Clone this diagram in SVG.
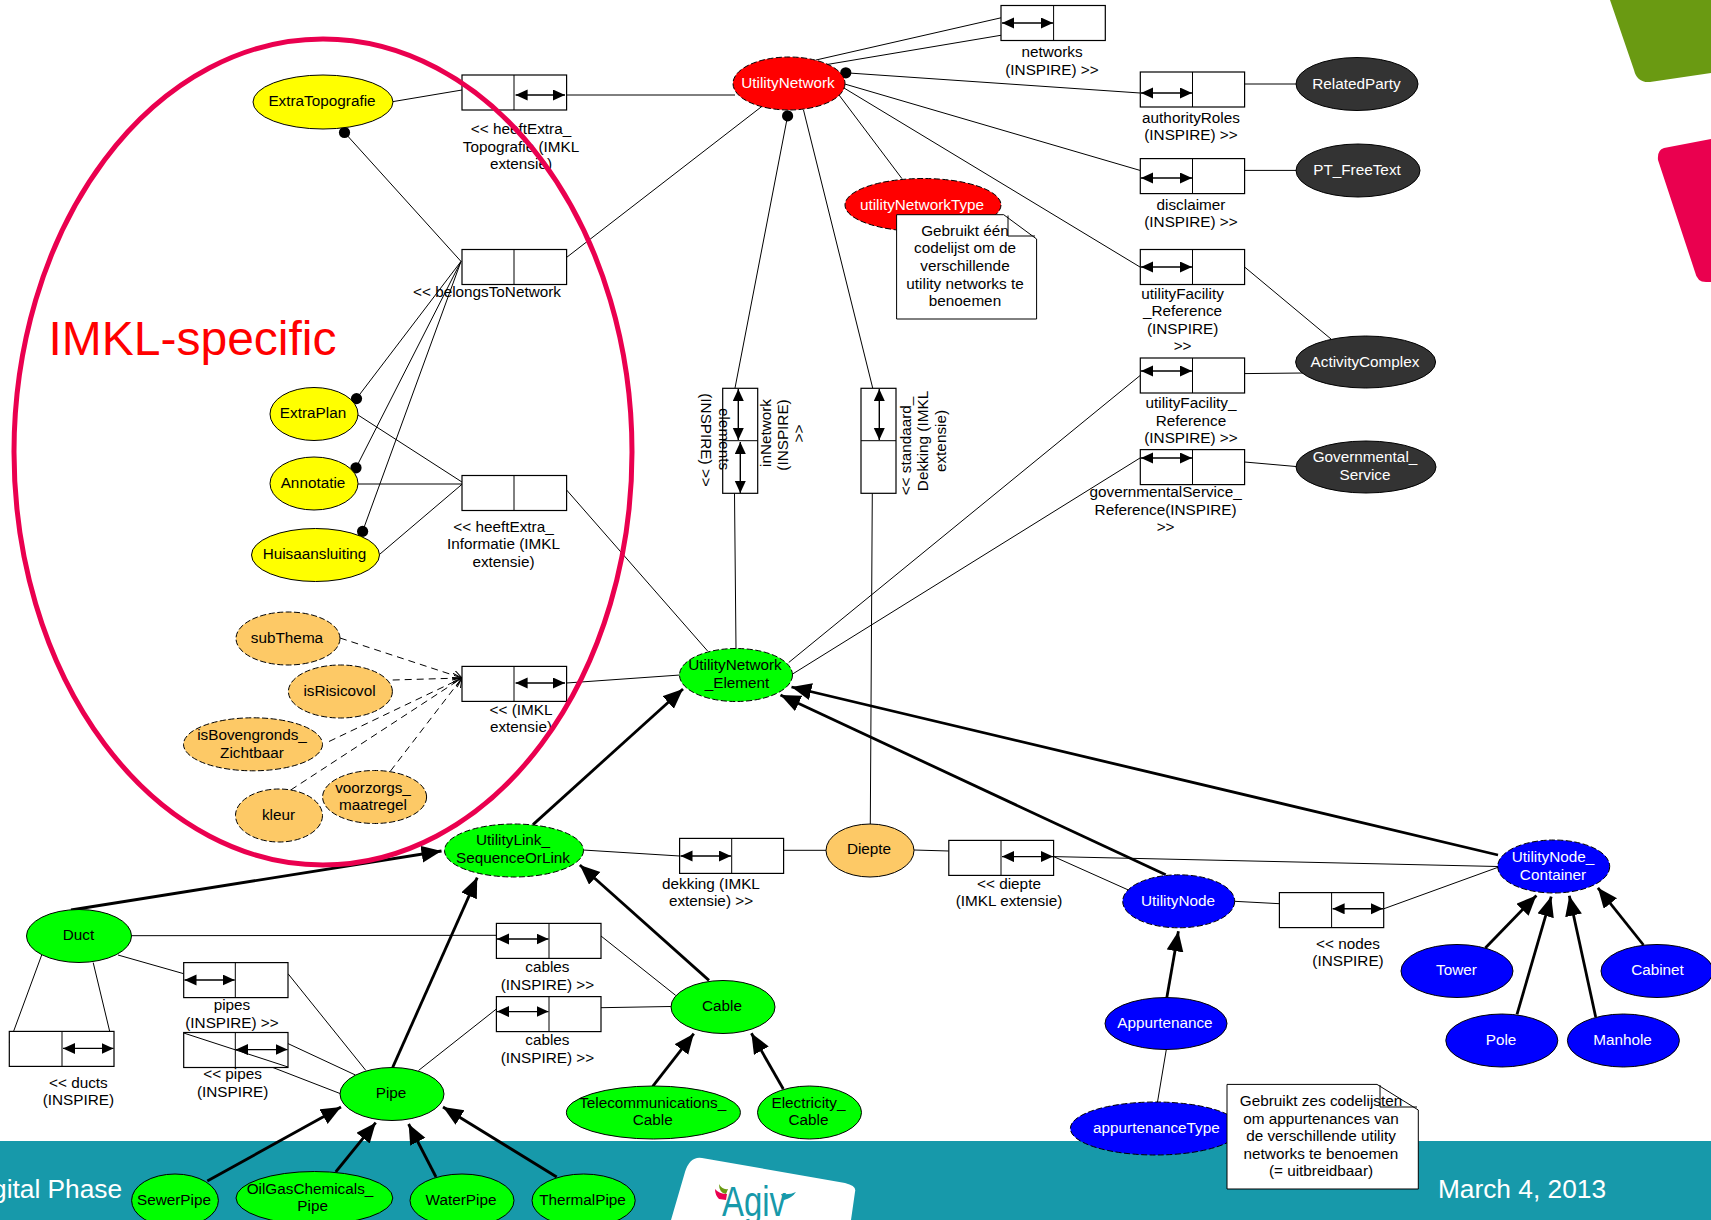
<svg xmlns="http://www.w3.org/2000/svg" width="1711" height="1220" viewBox="0 0 1711 1220">
<style>
text{font-family:"Liberation Sans",Arial,sans-serif;font-size:15.3px;fill:#000;text-anchor:middle}
.w{fill:#fff}
.n{stroke:#000;stroke-width:1}
.d{stroke-dasharray:6 2.5}
.g{fill:#00ff00}.y{fill:#ffff00}.r{fill:#ff0000}.b{fill:#0000ff}.k{fill:#333333}.o{fill:#fdc966}
.box{fill:#fff;stroke:#000;stroke-width:1.2}
.c{stroke:#000;stroke-width:1;fill:none}
.da{stroke:#000;stroke-width:1;fill:none;stroke-dasharray:7 5;marker-end:url(#open)}
.t{stroke:#000;stroke-width:2.8;fill:none;marker-end:url(#tip)}
.a{stroke:#000;stroke-width:1.4;fill:none;marker-start:url(#small);marker-end:url(#small)}
.note{fill:#fff;stroke:#000;stroke-width:1}
.dot{fill:#000}
</style>
<defs>
<marker id="tip" markerUnits="userSpaceOnUse" markerWidth="22" markerHeight="18" refX="20" refY="8.5" orient="auto"><path d="M0,0 L20,8.5 L0,17 Z" fill="#000"/></marker>
<marker id="small" markerUnits="userSpaceOnUse" markerWidth="14" markerHeight="12" refX="12" refY="5.5" orient="auto-start-reverse"><path d="M0,0 L12,5.5 L0,11 Z" fill="#000"/></marker>
<marker id="open" markerUnits="userSpaceOnUse" markerWidth="12" markerHeight="12" refX="9" refY="5" orient="auto"><path d="M0,0 L9,5 L0,10" fill="none" stroke="#000" stroke-width="1"/></marker>
</defs>

<g id="background">
<rect x="0" y="1141" width="1711" height="79" fill="#1799aa"/>
<path d="M1610,0 L1634,70 Q1637,83 1650,82 L1711,73 L1711,0 Z" fill="#6a9a12"/>
<path d="M1711,139 L1664,148 Q1657,150 1658,160 L1695,272 Q1697,282 1706,282 L1711,282 Z" fill="#ea004f"/>
<path d="M702,1158 L845,1183 Q857,1186 855,1192 L851,1220 L671,1220 L685,1172 Q690,1156 702,1158 Z" fill="#fff"/>
<path d="M719,1184 Q722,1190 728,1189 L726,1194 Q719,1193 719,1184 Z" fill="#6a9a12"/>
<path d="M715,1189 Q719,1194 727,1194 L726,1200 L719,1199 Q715,1195 715,1189 Z" fill="#ea004f"/>
<path d="M781,1194 Q790,1195 796,1192 Q792,1198 784,1200 Z" fill="#1799aa"/>
<text x="754" y="1216" textLength="64" lengthAdjust="spacingAndGlyphs" style="font-size:42px;fill:#1799aa">Agiv</text>
<text x="-8" y="1198" style="font-size:26.3px;fill:#fff;text-anchor:start">gital Phase</text>
<text x="1522" y="1198" style="font-size:26.3px;fill:#fff">March 4, 2013</text>
</g>

<g id="connectors">
<line class="c" x1="393" y1="101.6" x2="462" y2="90"/>
<line class="c" x1="514" y1="95" x2="735" y2="95"/>
<line class="c" x1="344.5" y1="132.5" x2="461" y2="261.4"/>
<line class="c" x1="356.5" y1="398.6" x2="461" y2="261.4"/>
<line class="c" x1="356" y1="467.8" x2="461" y2="261.4"/>
<line class="c" x1="362.6" y1="531.4" x2="461" y2="261.4"/>
<line class="c" x1="566.6" y1="257.4" x2="762.4" y2="106"/>
<line class="c" x1="358" y1="415" x2="463.5" y2="483"/>
<line class="c" x1="358" y1="484" x2="463.5" y2="484"/>
<line class="c" x1="380" y1="554" x2="463.5" y2="483"/>
<line class="c" x1="566.6" y1="490" x2="707.6" y2="651"/>
<line class="c" x1="787.6" y1="116" x2="735" y2="388"/>
<line class="c" x1="734.5" y1="493" x2="736" y2="649"/>
<line class="c" x1="803.5" y1="110" x2="872.7" y2="388"/>
<line class="c" x1="872.3" y1="493" x2="870.3" y2="824"/>
<line class="c" x1="816" y1="60" x2="1001" y2="17.8"/>
<line class="c" x1="827" y1="64.5" x2="1105" y2="17.8"/>
<line class="c" x1="845.8" y1="72.8" x2="1140" y2="93"/>
<line class="c" x1="1244.6" y1="84" x2="1297" y2="84"/>
<line class="c" x1="844.7" y1="84" x2="1140" y2="170.4"/>
<line class="c" x1="1244.6" y1="170.4" x2="1297" y2="170.4"/>
<line class="c" x1="844" y1="88" x2="1140" y2="267"/>
<line class="c" x1="1244.6" y1="267" x2="1331" y2="339"/>
<line class="c" x1="1140" y1="375.6" x2="788.7" y2="662.5"/>
<line class="c" x1="1244.6" y1="373.6" x2="1303" y2="373"/>
<line class="c" x1="1140" y1="458" x2="792.6" y2="674"/>
<line class="c" x1="1244.6" y1="462" x2="1297" y2="466.6"/>
<line class="c" x1="839" y1="95" x2="902" y2="178.7"/>
<line class="da" x1="340" y1="638" x2="462" y2="678"/>
<line class="da" x1="392.7" y1="680" x2="462" y2="678"/>
<line class="da" x1="329" y1="741.5" x2="462" y2="678"/>
<line class="da" x1="290.7" y1="790" x2="462" y2="678"/>
<line class="da" x1="390.5" y1="771" x2="462" y2="678"/>
<line class="c" x1="566.6" y1="683" x2="680" y2="675"/>
<line class="c" x1="583" y1="850" x2="679.6" y2="856"/>
<line class="c" x1="783" y1="850.3" x2="826.6" y2="850.3"/>
<line class="c" x1="131.6" y1="935.7" x2="496.4" y2="935.3"/>
<line class="c" x1="601" y1="936" x2="675.7" y2="995.4"/>
<line class="c" x1="601" y1="1007.7" x2="670.8" y2="1006.5"/>
<line class="c" x1="496.4" y1="1009" x2="418.5" y2="1070.5"/>
<line class="c" x1="118" y1="955" x2="183.7" y2="973.7"/>
<line class="c" x1="288" y1="973.7" x2="365.9" y2="1070.5"/>
<line class="c" x1="288" y1="1043.6" x2="355.4" y2="1075"/>
<line class="c" x1="41.7" y1="955" x2="9.3" y2="1043"/>
<line class="c" x1="93.2" y1="962.6" x2="109.7" y2="1031.4"/>
<line class="c" x1="914" y1="850" x2="948.8" y2="851"/>
<line class="c" x1="1053.7" y1="856.6" x2="1498" y2="866.5"/>
<line class="c" x1="1053.7" y1="856.6" x2="1128.4" y2="890"/>
<line class="c" x1="1234.4" y1="901.3" x2="1279.4" y2="903.7"/>
<line class="c" x1="1383.7" y1="908.8" x2="1498" y2="867.3"/>
<line class="c" x1="1166.3" y1="1049.6" x2="1157.5" y2="1102"/>
<line class="t" x1="533" y1="824.6" x2="683" y2="689"/>
<line class="t" x1="71" y1="910" x2="441.5" y2="851"/>
<line class="t" x1="709" y1="980.4" x2="579.8" y2="865"/>
<line class="t" x1="392.7" y1="1067.4" x2="477.2" y2="877.6"/>
<line class="t" x1="652.7" y1="1086.3" x2="693.8" y2="1033.7"/>
<line class="t" x1="783.3" y1="1089" x2="751.4" y2="1033.3"/>
<line class="t" x1="207.3" y1="1181" x2="341" y2="1107"/>
<line class="t" x1="335.7" y1="1172" x2="375.7" y2="1122.7"/>
<line class="t" x1="436" y1="1177" x2="408.6" y2="1124"/>
<line class="t" x1="556.7" y1="1177" x2="443" y2="1107"/>
<line class="t" x1="1165.7" y1="874.8" x2="780.5" y2="695"/>
<line class="t" x1="1498" y1="855" x2="791.5" y2="687"/>
<line class="t" x1="1485.3" y1="948" x2="1536.4" y2="895.4"/>
<line class="t" x1="1517" y1="1014.4" x2="1551.2" y2="896.6"/>
<line class="t" x1="1595.7" y1="1017" x2="1569.3" y2="895.8"/>
<line class="t" x1="1643.5" y1="945" x2="1597.9" y2="887.8"/>
<line class="t" x1="1166.8" y1="997.8" x2="1178.4" y2="931.3"/>
<line class="c" x1="183.7" y1="1033" x2="340" y2="1093.5"/>
<circle class="dot" cx="344.5" cy="132.5" r="5.6"/>
<circle class="dot" cx="356.5" cy="398.6" r="5.6"/>
<circle class="dot" cx="356" cy="467.8" r="5.6"/>
<circle class="dot" cx="362.6" cy="531.4" r="5.6"/>
<circle class="dot" cx="845.8" cy="72.8" r="5.6"/>
<circle class="dot" cx="787.6" cy="115.9" r="5.6"/>
</g>

<g id="box-heeftExtraTopografie"><rect class="box" x="462" y="75" width="104.6" height="35"/><line class="c" x1="514" y1="75" x2="514" y2="110"/><line class="a" x1="515.6" y1="95" x2="565" y2="95"/><text x="521" y="134">&lt;&lt; heeftExtra_</text><text x="521" y="151.5">Topografie (IMKL</text><text x="521" y="169">extensie)</text></g>
<g id="box-belongsToNetwork"><rect class="box" x="462" y="249.5" width="104.6" height="35"/><line class="c" x1="514" y1="249.5" x2="514" y2="284.5"/><text x="487" y="297">&lt;&lt; belongsToNetwork</text></g>
<g id="box-heeftExtraInformatie"><rect class="box" x="462" y="475.5" width="104.6" height="35"/><line class="c" x1="514" y1="475.5" x2="514" y2="510.5"/><text x="503.5" y="531.5">&lt;&lt; heeftExtra_</text><text x="503.5" y="549">Informatie (IMKL</text><text x="503.5" y="566.5">extensie)</text></g>
<g id="box-imkl"><rect class="box" x="462" y="666.4" width="104.6" height="35"/><line class="c" x1="514" y1="666.4" x2="514" y2="701.4"/><line class="a" x1="515.6" y1="683" x2="565" y2="683"/><text x="521" y="714.7">&lt;&lt; (IMKL</text><text x="521" y="732.2">extensie)</text></g>
<g id="box-inNetwork"><rect class="box" x="722.7" y="388.3" width="35" height="105"/><line class="c" x1="722.7" y1="440.7" x2="757.7" y2="440.7"/><line class="a" x1="738.3" y1="389" x2="738.3" y2="440"/><line class="a" x1="740.3" y1="442" x2="740.3" y2="493"/>
<text transform="translate(770.7,433) rotate(-90)">inNetwork</text><text transform="translate(787.5,435) rotate(-90)">(INSPIRE)</text><text transform="translate(804,433.5) rotate(-90)">&gt;&gt;</text>
<text transform="translate(718.5,439) rotate(90)">elements</text><text transform="translate(700.5,440) rotate(90)">(INSPIRE) &gt;&gt;</text></g>
<g id="box-standaardDekking"><rect class="box" x="861" y="388.3" width="35" height="105"/><line class="c" x1="861" y1="440.7" x2="896" y2="440.7"/><line class="a" x1="879.3" y1="389" x2="879.3" y2="440"/>
<text transform="translate(911,446) rotate(-90)">&lt;&lt; standaard_</text><text transform="translate(928,441) rotate(-90)">Dekking (IMKL</text><text transform="translate(945.5,441) rotate(-90)">extensie)</text></g>
<g id="box-networks"><rect class="box" x="1001" y="5.5" width="104.3" height="35"/><line class="c" x1="1053.6" y1="5.5" x2="1053.6" y2="40.5"/><line class="a" x1="1002" y1="23" x2="1053" y2="23"/><text x="1052" y="57">networks</text><text x="1052" y="74.5">(INSPIRE) &gt;&gt;</text></g>
<g id="box-authorityRoles"><rect class="box" x="1140.3" y="72" width="104.3" height="35"/><line class="c" x1="1192.5" y1="72" x2="1192.5" y2="107"/><line class="a" x1="1141" y1="93" x2="1192" y2="93"/><text x="1191" y="122.6">authorityRoles</text><text x="1191" y="140">(INSPIRE) &gt;&gt;</text></g>
<g id="box-disclaimer"><rect class="box" x="1140.3" y="158.6" width="104.3" height="35"/><line class="c" x1="1192.5" y1="158.6" x2="1192.5" y2="193.6"/><line class="a" x1="1141" y1="178" x2="1192" y2="178"/><text x="1191" y="209.6">disclaimer</text><text x="1191" y="227">(INSPIRE) &gt;&gt;</text></g>
<g id="box-utilityFacility1"><rect class="box" x="1140.3" y="249.5" width="104.3" height="35"/><line class="c" x1="1192.5" y1="249.5" x2="1192.5" y2="284.5"/><line class="a" x1="1141" y1="267" x2="1192" y2="267"/><text x="1182.6" y="298.5">utilityFacility</text><text x="1182.6" y="316">_Reference</text><text x="1182.6" y="333.5">(INSPIRE)</text><text x="1182.6" y="351">&gt;&gt;</text></g>
<g id="box-utilityFacility2"><rect class="box" x="1140.3" y="358" width="104.3" height="35"/><line class="c" x1="1192.5" y1="358" x2="1192.5" y2="393"/><line class="a" x1="1141" y1="371" x2="1192" y2="371"/><text x="1191" y="408">utilityFacility_</text><text x="1191" y="425.5">Reference</text><text x="1191" y="443">(INSPIRE) &gt;&gt;</text></g>
<g id="box-governmentalService"><rect class="box" x="1140.3" y="449.6" width="104.3" height="35"/><line class="c" x1="1192.5" y1="449.6" x2="1192.5" y2="484.6"/><line class="a" x1="1141" y1="458" x2="1192" y2="458"/><text x="1165.6" y="497">governmentalService_</text><text x="1165.6" y="514.5">Reference(INSPIRE)</text><text x="1165.6" y="532">&gt;&gt;</text></g>
<g id="box-dekking"><rect class="box" x="679.6" y="838.4" width="104" height="35"/><line class="c" x1="731.7" y1="838.4" x2="731.7" y2="873.4"/><line class="a" x1="680.5" y1="856" x2="731" y2="856"/><text x="711" y="888.6">dekking (IMKL</text><text x="711" y="906">extensie) &gt;&gt;</text></g>
<g id="box-diepte"><rect class="box" x="948.8" y="840.4" width="104.8" height="35"/><line class="c" x1="1001" y1="840.4" x2="1001" y2="875.4"/><line class="a" x1="1002" y1="856.6" x2="1053" y2="856.6"/><text x="1009" y="888.6">&lt;&lt; diepte</text><text x="1009" y="906">(IMKL extensie)</text></g>
<g id="box-nodes"><rect class="box" x="1279.4" y="892.6" width="104.3" height="35"/><line class="c" x1="1331.6" y1="892.6" x2="1331.6" y2="927.6"/><line class="a" x1="1332.6" y1="908.8" x2="1383" y2="908.8"/><text x="1348" y="948.7">&lt;&lt; nodes</text><text x="1348" y="966">(INSPIRE)</text></g>
<g id="box-cables1"><rect class="box" x="496.4" y="923.4" width="104.6" height="35"/><line class="c" x1="549" y1="923.4" x2="549" y2="958.4"/><line class="a" x1="497" y1="939" x2="548.5" y2="939"/><text x="547.4" y="972">cables</text><text x="547.4" y="989.5">(INSPIRE) &gt;&gt;</text></g>
<g id="box-cables2"><rect class="box" x="496.4" y="996.6" width="104.6" height="35"/><line class="c" x1="549" y1="996.6" x2="549" y2="1031.6"/><line class="a" x1="497" y1="1011.6" x2="548.5" y2="1011.6"/><text x="547.4" y="1045">cables</text><text x="547.4" y="1062.5">(INSPIRE) &gt;&gt;</text></g>
<g id="box-pipes1"><rect class="box" x="183.7" y="962.6" width="104.3" height="35"/><line class="c" x1="235.3" y1="962.6" x2="235.3" y2="997.6"/><line class="a" x1="184.5" y1="980" x2="234.7" y2="980"/><text x="232" y="1010">pipes</text><text x="232" y="1027.5">(INSPIRE) &gt;&gt;</text></g>
<g id="box-pipes2"><rect class="box" x="183.7" y="1032.5" width="104.3" height="35"/><line class="c" x1="235.3" y1="1032.5" x2="235.3" y2="1067.5"/><line class="a" x1="236" y1="1049.6" x2="287.5" y2="1049.6"/><line class="c" x1="183.7" y1="1033" x2="288" y2="1067"/><text x="232.6" y="1079">&lt;&lt; pipes</text><text x="232.6" y="1096.6">(INSPIRE)</text></g>
<g id="box-ducts"><rect class="box" x="9.3" y="1031.4" width="104.7" height="35"/><line class="c" x1="62" y1="1031.4" x2="62" y2="1066.4"/><line class="a" x1="63" y1="1048.4" x2="113.5" y2="1048.4"/><text x="78.4" y="1087.5">&lt;&lt; ducts</text><text x="78.4" y="1105">(INSPIRE)</text></g>

<g id="node-ExtraTopografie"><ellipse class="n y" cx="323" cy="102" rx="70" ry="27"/><text x="322" y="106">ExtraTopografie</text></g>
<g id="node-ExtraPlan"><ellipse class="n y" cx="314" cy="414" rx="44" ry="26.5"/><text x="313" y="418">ExtraPlan</text></g>
<g id="node-Annotatie"><ellipse class="n y" cx="314" cy="483.5" rx="44" ry="26.5"/><text x="313" y="488">Annotatie</text></g>
<g id="node-Huisaansluiting"><ellipse class="n y" cx="315.5" cy="555" rx="64" ry="26.5"/><text x="314.5" y="559">Huisaansluiting</text></g>
<g id="node-subThema"><ellipse class="n d o" cx="288" cy="638.5" rx="52" ry="26.5"/><text x="287" y="643">subThema</text></g>
<g id="node-isRisicovol"><ellipse class="n d o" cx="340.4" cy="691.5" rx="52" ry="26.5"/><text x="339.5" y="696">isRisicovol</text></g>
<g id="node-isBovengronds"><ellipse class="n d o" cx="253" cy="744.3" rx="69.5" ry="26.5"/><text x="252" y="740">isBovengronds_</text><text x="252" y="757.5">Zichtbaar</text></g>
<g id="node-kleur"><ellipse class="n d o" cx="279" cy="815.5" rx="43.5" ry="26.5"/><text x="278.5" y="820">kleur</text></g>
<g id="node-voorzorgs"><ellipse class="n d o" cx="374.6" cy="797" rx="52" ry="26.5"/><text x="373" y="792.5">voorzorgs_</text><text x="373" y="810">maatregel</text></g>
<g id="node-UtilityNetwork"><ellipse class="n d r" cx="789" cy="83.5" rx="56" ry="26.5"/><text class="w" x="788" y="88">UtilityNetwork</text></g>
<g id="node-utilityNetworkType"><ellipse class="n d r" cx="923" cy="205" rx="78" ry="26.5"/><text class="w" x="922" y="209.6">utilityNetworkType</text></g>
<g id="note-utilityNetworkType"><path class="note" d="M896.6,214.7 L1003.7,214.7 L1036.6,239 L1036.6,319 L896.6,319 Z"/><path class="c" d="M1008,215.5 L1008,236 L1035,236"/><text x="965" y="235.6">Gebruikt één</text><text x="965" y="253.3">codelijst om de</text><text x="965" y="271">verschillende</text><text x="965" y="288.5">utility networks te</text><text x="965" y="306">benoemen</text></g>
<g id="node-RelatedParty"><ellipse class="n k" cx="1357" cy="84" rx="61" ry="26.5"/><text class="w" x="1356.5" y="88.5">RelatedParty</text></g>
<g id="node-PT_FreeText"><ellipse class="n k" cx="1358" cy="170.5" rx="62" ry="26.5"/><text class="w" x="1357" y="175">PT_FreeText</text></g>
<g id="node-ActivityComplex"><ellipse class="n k" cx="1365.6" cy="362" rx="70" ry="26"/><text class="w" x="1365" y="366.5">ActivityComplex</text></g>
<g id="node-GovernmentalService"><ellipse class="n k" cx="1366" cy="467" rx="70" ry="26"/><text class="w" x="1365" y="462">Governmental_</text><text class="w" x="1365" y="479.5">Service</text></g>
<g id="node-UtilityNetwork_Element"><ellipse class="n d g" cx="736" cy="675" rx="56.5" ry="26.5"/><text x="735" y="670">UtilityNetwork</text><text x="737" y="688">_Element</text></g>
<g id="node-UtilityLink"><ellipse class="n d g" cx="514" cy="850.5" rx="69.5" ry="26.5"/><text x="513" y="845">UtilityLink_</text><text x="513" y="862.5">SequenceOrLink</text></g>
<g id="node-Diepte"><ellipse class="n o" cx="870" cy="850.5" rx="44" ry="26.5"/><text x="869" y="854">Diepte</text></g>
<g id="node-Duct"><ellipse class="n g" cx="79" cy="936" rx="52.5" ry="26.5"/><text x="78.5" y="939.5">Duct</text></g>
<g id="node-Pipe"><ellipse class="n g" cx="392" cy="1094" rx="52" ry="26.5"/><text x="391" y="1097.5">Pipe</text></g>
<g id="node-Cable"><ellipse class="n g" cx="723" cy="1007" rx="52" ry="26.5"/><text x="722" y="1010.5">Cable</text></g>
<g id="node-Telecommunications"><ellipse class="n g" cx="653.4" cy="1112.5" rx="87" ry="26.5"/><text x="652.7" y="1107.7">Telecommunications_</text><text x="652.7" y="1125">Cable</text></g>
<g id="node-Electricity"><ellipse class="n g" cx="809.5" cy="1112.5" rx="52" ry="26.5"/><text x="808.5" y="1107.7">Electricity_</text><text x="808.5" y="1125">Cable</text></g>
<g id="node-SewerPipe"><ellipse class="n g" cx="175" cy="1200.5" rx="43.4" ry="26.5"/><text x="174" y="1205">SewerPipe</text></g>
<g id="node-OilGasChemicals"><ellipse class="n g" cx="314.4" cy="1198" rx="78.4" ry="26.5"/><text x="310" y="1193.5">OilGasChemicals_</text><text x="312.6" y="1211">Pipe</text></g>
<g id="node-WaterPipe"><ellipse class="n g" cx="462" cy="1200.5" rx="52" ry="26.5"/><text x="461" y="1205">WaterPipe</text></g>
<g id="node-ThermalPipe"><ellipse class="n g" cx="583.6" cy="1200.5" rx="51.6" ry="26.5"/><text x="582.5" y="1205">ThermalPipe</text></g>
<g id="node-UtilityNode"><ellipse class="n d b" cx="1178.7" cy="901.3" rx="56" ry="26.5"/><text class="w" x="1178" y="905.6">UtilityNode</text></g>
<g id="node-UtilityNode_Container"><ellipse class="n d b" cx="1553.7" cy="866.5" rx="56" ry="26.5"/><text class="w" x="1553" y="862">UtilityNode_</text><text class="w" x="1553" y="879.5">Container</text></g>
<g id="node-Tower"><ellipse class="n b" cx="1457" cy="971" rx="56" ry="26.5"/><text class="w" x="1456.5" y="974.5">Tower</text></g>
<g id="node-Pole"><ellipse class="n b" cx="1501.8" cy="1040.5" rx="56" ry="26.5"/><text class="w" x="1501" y="1044.5">Pole</text></g>
<g id="node-Manhole"><ellipse class="n b" cx="1623.4" cy="1040.5" rx="56" ry="26.5"/><text class="w" x="1622.5" y="1044.5">Manhole</text></g>
<g id="node-Cabinet"><ellipse class="n b" cx="1657" cy="971" rx="56" ry="26.5"/><text class="w" x="1657.5" y="974.5">Cabinet</text></g>
<g id="node-Appurtenance"><ellipse class="n b" cx="1166" cy="1023.5" rx="61" ry="26"/><text class="w" x="1165" y="1028">Appurtenance</text></g>
<g id="node-appurtenanceType"><ellipse class="n d b" cx="1155.4" cy="1128.5" rx="85" ry="26.5"/><text class="w" x="1156.4" y="1133">appurtenanceType</text></g>
<g id="note-appurtenanceType"><path class="note" d="M1227,1084.4 L1377,1084.4 L1418.3,1110 L1418.3,1189 L1227,1189 Z"/><path class="c" d="M1380,1085 L1380,1107 L1417,1107"/><text x="1321" y="1105.7">Gebruikt zes codelijsten</text><text x="1321" y="1123.5">om appurtenances van</text><text x="1321" y="1141">de verschillende utility</text><text x="1321" y="1158.5">networks te benoemen</text><text x="1321" y="1176">(= uitbreidbaar)</text></g>

<g id="region-IMKL-specific"><ellipse cx="323" cy="452" rx="309" ry="413" fill="none" stroke="#ea004f" stroke-width="5"/><text x="192.5" y="355" style="font-size:48px;fill:#ff0000">IMKL-specific</text></g>
</svg>
